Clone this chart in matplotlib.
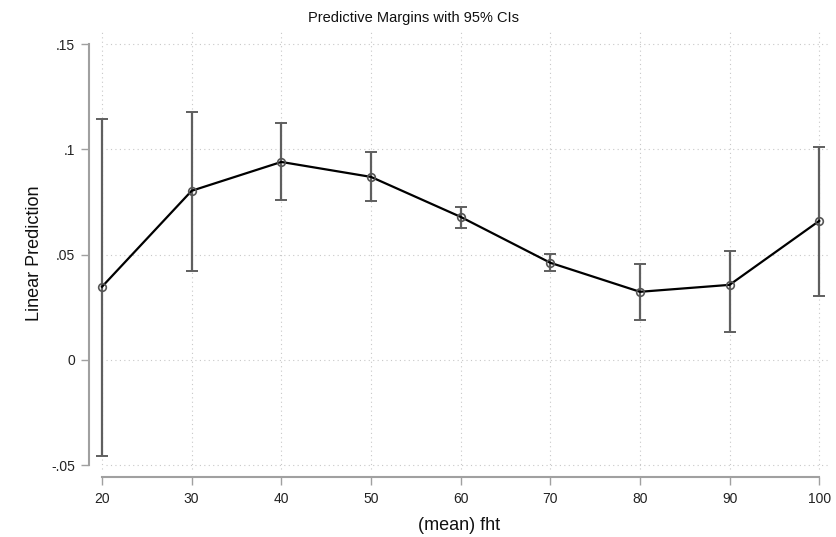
import matplotlib
matplotlib.use("Agg")
import matplotlib.pyplot as plt

plt.rcParams['font.family'] = ['Liberation Sans', 'DejaVu Sans']

fht = [20, 30, 40, 50, 60, 70, 80, 90, 100]
margin = [0.0347, 0.0803, 0.0940, 0.0869, 0.0679, 0.0461, 0.0323, 0.0356, 0.0660]
ci_low = [-0.0456, 0.0423, 0.0760, 0.0755, 0.0627, 0.0423, 0.0190, 0.0133, 0.0304]
ci_high = [0.1145, 0.1178, 0.1126, 0.0988, 0.0727, 0.0504, 0.0456, 0.0518, 0.1012]
yticks = [-0.05, 0, 0.05, 0.1, 0.15]
ytick_labels = ["-.05", "0", ".05", ".1", ".15"]

fig = plt.figure(figsize=(8.36, 5.37), dpi=100)
ax = fig.add_axes([89/836, 1-477/537, (830-89)/836, (477-30)/537])

ax.set_xlim(18.55, 101.2)
ax.set_ylim(-0.0557, 0.1567)

# grid
ax.vlines(fht, yticks[0] - 0.002, 0.1567, colors='#c8c8c8', lw=0.8, linestyles=(0, (1, 3)), zorder=0)
ax.hlines(yticks, 20.5, 101.2, colors='#c8c8c8', lw=0.8, linestyles=(0, (1, 3)), zorder=0)

yerr = [[m - l for m, l in zip(margin, ci_low)], [h - m for m, h in zip(margin, ci_high)]]
ax.errorbar(fht, margin, yerr=yerr, fmt='none', ecolor='#5f5f5f', elinewidth=1.6,
            capsize=4, capthick=1.4, zorder=2)
ax.plot(fht, margin, color='black', lw=1.6, zorder=3)
ax.plot(fht, margin, ls='none', marker='o', ms=5.5, mfc='none', mec='#555555', mew=1.2, zorder=4)

ax.set_xticks(fht)
ax.set_xticklabels([str(v) for v in fht], fontsize=10)
ax.set_yticks(yticks)
ax.set_yticklabels(ytick_labels, fontsize=10)

for s in ['top', 'right']:
    ax.spines[s].set_visible(False)
ax.spines['left'].set_bounds(-0.05, 0.15)
ax.spines['bottom'].set_bounds(20, 100)
for s in ['left', 'bottom']:
    ax.spines[s].set_color('#a0a0a0')
    ax.spines[s].set_linewidth(1.5)
ax.tick_params(axis='both', colors='#a0a0a0', labelcolor='#222222', length=6, width=1.0, direction='out')
ax.tick_params(axis='x', pad=5)
ax.tick_params(axis='y', pad=4)

ax.set_xlabel("(mean) fht", fontsize=13, color='#111111', labelpad=8)
ax.set_ylabel("Linear Prediction", fontsize=13, color='#111111', labelpad=6)
fig.text(0.5 - 0.005, 1 - 18/537, "Predictive Margins with 95% CIs", ha='center', va='center',
         fontsize=10.5, color='#111111')

fig.savefig("out.png", dpi=100)
